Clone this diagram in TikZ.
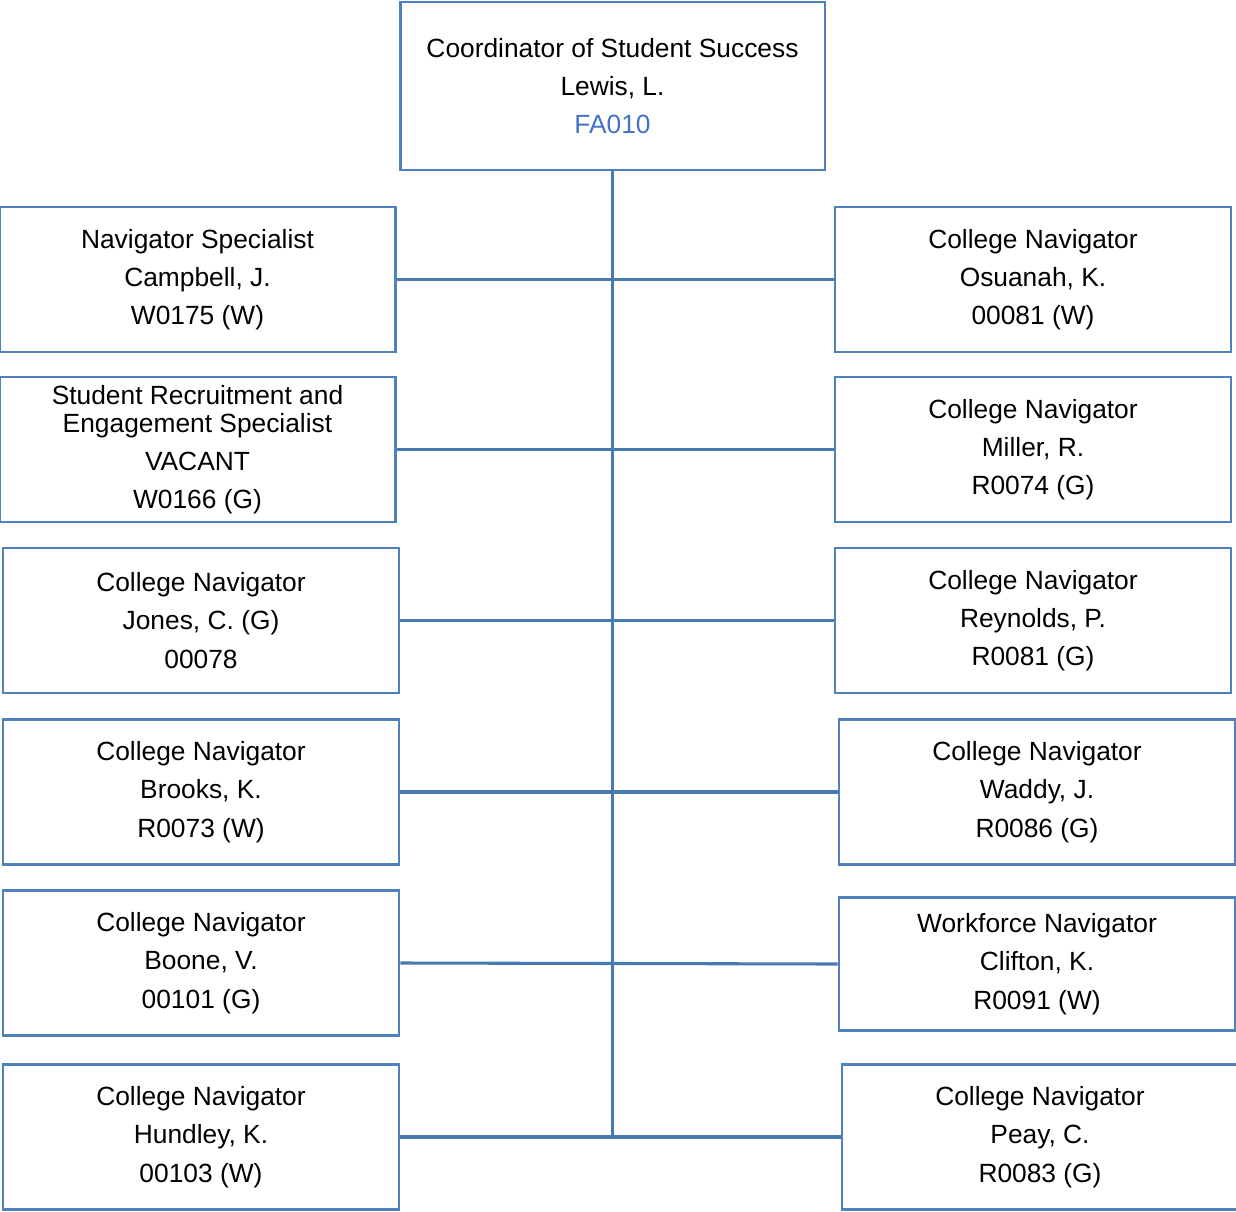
\documentclass[tikz,border=0pt]{standalone}
\usepackage{fontspec}
\setmainfont{Liberation Sans}
\usepackage{xcolor}
\usepackage{tikz}
\usetikzlibrary{positioning}
\definecolor{boxblue}{RGB}{79, 129, 189}
\definecolor{linkblue}{RGB}{72, 122, 178}
\definecolor{codeblue}{RGB}{68, 114, 196}
\tikzstyle{position} = [
    rectangle,
    minimum width=6.34cm,
    minimum height=2.32cm,
    inner sep=0pt,
    align=center,
    draw=boxblue,
    line width=1.3pt,
    fill=white,
    font=\fontsize{12}{17.4}\selectfont
]
\tikzstyle{link} = [
    line width=1.4pt,
    color=linkblue
]

\begin{document}
\begin{tikzpicture}[x=0.016cm, y=-0.016cm]
        \useasboundingbox (0,0) rectangle (1236,1212);

        % Coordinator
        \node[position, minimum width=6.8cm, minimum height=2.69cm] (coord) at (612.5, 86) {Coordinator of Student Success\\Lewis, L.\\\textcolor{codeblue}{FA010}};

        % Left column
        \node[position] (l1) at (197.5, 279.5) {Navigator Specialist\\Campbell, J.\\W0175 (W)};
        \node[position] (l2) at (197.5, 449.5) {Student Recruitment and\\[-4.6pt]Engagement Specialist\\VACANT\\W0166 (G)};
        \node[position] (l3) at (201, 620.5) {College Navigator\\Jones, C. (G)\\00078};
        \node[position] (l4) at (201, 792) {College Navigator\\Brooks, K.\\R0073 (W)};
        \node[position] (l5) at (201, 963) {College Navigator\\Boone, V.\\00101 (G)};
        \node[position] (l6) at (201, 1137) {College Navigator\\Hundley, K.\\00103 (W)};

        % Right column
        \node[position] (r1) at (1033, 279.5) {College Navigator\\Osuanah, K.\\00081 (W)};
        \node[position] (r2) at (1033, 449.5) {College Navigator\\Miller, R.\\R0074 (G)};
        \node[position] (r3) at (1033, 620.5) {College Navigator\\Reynolds, P.\\R0081 (G)};
        \node[position] (r4) at (1037, 792) {College Navigator\\Waddy, J.\\R0086 (G)};
        \node[position, minimum height=2.14cm] (r5) at (1037, 964) {Workforce Navigator\\Clifton, K.\\R0091 (W)};
        \node[position] (r6) at (1040, 1137) {College Navigator\\Peay, C.\\R0083 (G)};

        % Connections
        \draw[link] (coord.south) -- (coord.south |- l6.east);
        \draw[link] (l1.east) -- (r1.west);
        \draw[link] (l2.east) -- (r2.west);
        \draw[link] (l3.east) -- (r3.west);
        \draw[link] (l4.east) -- (r4.west);
        \draw[link] (l5.east) -- (r5.west);
        \draw[link] (l6.east) -- (r6.west);
    \end{tikzpicture}
\end{document}
